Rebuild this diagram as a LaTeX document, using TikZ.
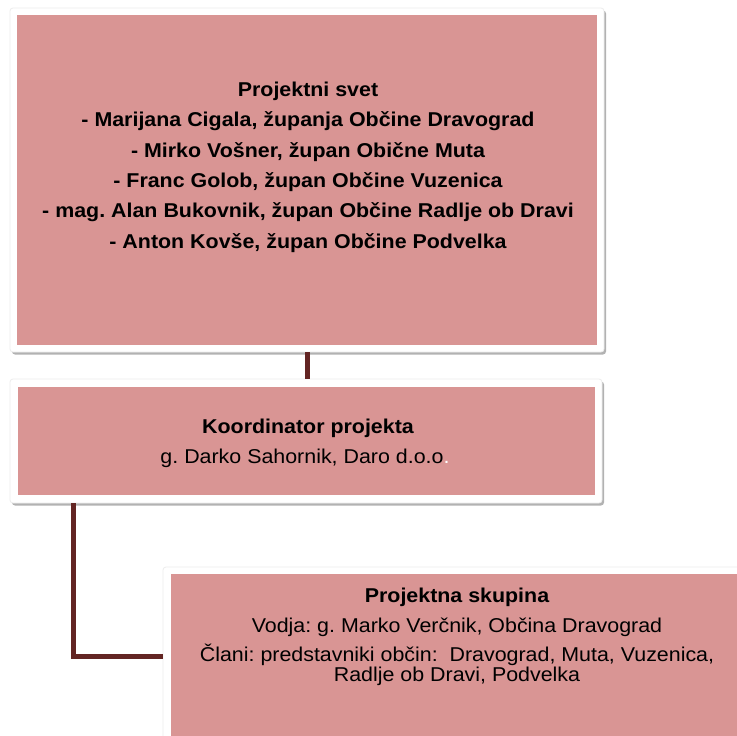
\documentclass[tikz,border=0pt]{standalone}
\usepackage{fontspec}
\setmainfont[FakeStretch=1.07]{Liberation Sans}
\usetikzlibrary{shadows}
\definecolor{pinkfill}{HTML}{D99594}
\definecolor{connbrown}{HTML}{632523}
\definecolor{frameline}{HTML}{EDEDED}
\begin{document}
\frenchspacing
\begin{tikzpicture}[x=1pt,y=-1pt,
  frame/.style={fill=white, draw=frameline, line width=0.8pt, rounded corners=3pt, inner sep=0pt,
    drop shadow={shadow xshift=2pt, shadow yshift=-2.5pt, opacity=0.3, fill=black}},
  panel/.style={fill=pinkfill, draw=none, inner sep=0pt},
  conn/.style={draw=connbrown, line width=5pt},
  txt/.style={anchor=base, inner sep=0pt, font=\fontsize{20}{24}\selectfont},
  btxt/.style={anchor=base, inner sep=0pt, font=\fontsize{20}{24}\selectfont\bfseries}]
\useasboundingbox (0,0) rectangle (737,736);
\fill[white] (0,0) rectangle (737,736);

% frames
\node[frame, minimum width=594pt, minimum height=344pt] (f1) at (307,180) {};
\node[frame, minimum width=592pt, minimum height=124pt] (f2) at (306,441) {};
\node[frame, minimum width=582pt, minimum height=178pt] (f3) at (454,656) {};

% panels
\node[panel, minimum width=580pt, minimum height=330pt] (p1) at (307,180) {};
\node[panel, minimum width=577pt, minimum height=108pt] (p2) at (306.5,441) {};
\node[panel, minimum width=567pt, minimum height=164pt] (p3) at (454.5,656) {};

% connectors
\draw[conn] (f1.south) -- (f1.south |- f2.north);
\draw[conn] ([xshift=64pt]f2.south west) |- (f3.west);

% top box text
\node[btxt] (t10) at (308,96) {Projektni svet};
\node[btxt] (t11) at (308,126.5) {- Marijana Cigala, županja Občine Dravograd};
\node[btxt] (t12) at (308,157) {- Mirko Vošner, župan Obične Muta};
\node[btxt] (t13) at (308,187) {- Franc Golob, župan Občine Vuzenica};
\node[btxt] (t14) at (308,217.5) {- mag. Alan Bukovnik, župan Občine Radlje ob Dravi};
\node[btxt] (t15) at (308,248) {- Anton Kovše, župan Občine Podvelka};

% second box text
\node[btxt] (t20) at (308,433) {Koordinator projekta};
\node[txt] (t21) at (305,463) {g. Darko Sahornik, Daro d.o.o\textcolor{white}{.}};

% third box text
\node[btxt] (t30) at (457,602) {Projektna skupina};
\node[txt] (t31) at (457,632) {Vodja: g. Marko Verčnik, Občina Dravograd};
\node[txt] (t32) at (457,661) {Člani: predstavniki občin:\ \ Dravograd, Muta, Vuzenica,};
\node[txt] (t33) at (457,681.5) {Radlje ob Dravi, Podvelka};
\end{tikzpicture}
\end{document}
